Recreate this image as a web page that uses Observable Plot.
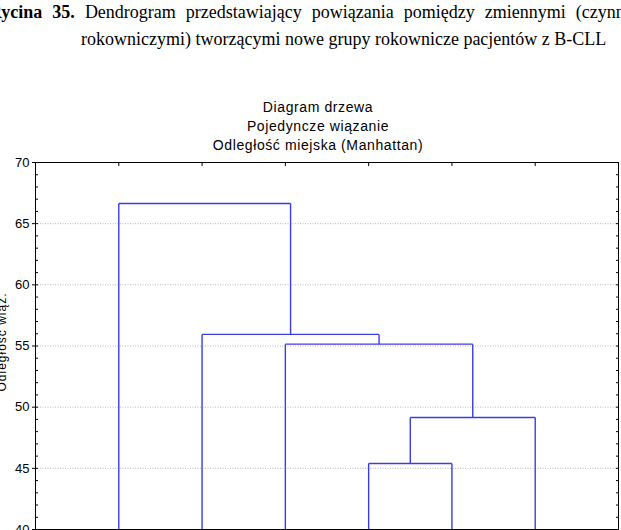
<!DOCTYPE html>
<html><head><meta charset="utf-8">
<script src="https://cdn.jsdelivr.net/npm/d3@7"></script>
<script src="https://cdn.jsdelivr.net/npm/@observablehq/plot@0.6"></script>
<style>
html,body{margin:0;padding:0;background:#fff;overflow:hidden}
#chart{position:relative;width:621px;height:530px;overflow:hidden}
</style></head><body>
<div id="chart"></div>
<script>
// ---- data ----
const captionLine1Bold = "Rycina 35.";
const captionLine1 = "Dendrogram przedstawiający powiązania pomiędzy zmiennymi (czynnikami";
const captionLine2 = "rokowniczymi) tworzącymi nowe grupy rokownicze pacjentów z B-CLL";
const titleLines = ["Diagram drzewa", "Pojedyncze wiązanie", "Odległość miejska (Manhattan)"];
const yAxisTitle = "Odległość wiąz.";
const leafPositions = [1, 2, 3, 4, 5, 6];        // leaf order on the x axis
const leafHeight = 0;                             // distance of a leaf to itself
// merges: node ids 0..5 are leaves, merge k creates node 6+k
const mergeLeft = [3, 6, 2, 1, 0];
const mergeRight = [4, 5, 7, 8, 9];
const mergeHeight = [45.4, 49.15, 55.15, 55.95, 66.65];
const yTicks = [40, 45, 50, 55, 60, 65, 70];
const yGrid = [45, 50, 55, 60, 65];
const yMinorTicks = d3.range(40, 71, 1);
const yDomain = [40, 70];

// ---- build segments from the tree ----
const pos = leafPositions.slice();
const hgt = leafPositions.map(() => leafHeight);
const segments = [];
mergeLeft.forEach((l, k) => {
  const r = mergeRight[k], id = leafPositions.length + k, h = mergeHeight[k];
  pos[id] = (pos[l] + pos[r]) / 2; hgt[id] = h;
  segments.push({x1: pos[l], y1: hgt[l], x2: pos[l], y2: h});
  segments.push({x1: pos[r], y1: hgt[r], x2: pos[r], y2: h});
  segments.push({x1: pos[l], y1: h, x2: pos[r], y2: h});
});

const blue = "#3c3ce6";
const plot = Plot.plot({
  width: 621, height: 530,
  marginTop: 162, marginBottom: 1, marginLeft: 35, marginRight: 3,
  style: {fontFamily: "'Liberation Sans', Arial, sans-serif", fontSize: "13px", background: "#fff"},
  x: {domain: [0, leafPositions.length + 1], axis: null},
  y: {domain: yDomain, axis: null, label: null},
  marks: [
    Plot.gridY(yGrid, {stroke: "#9a9a9a", strokeOpacity: 0.7, strokeDasharray: "1,1.5"}),
    Plot.link(segments, {x1: "x1", y1: "y1", x2: "x2", y2: "y2", stroke: blue, strokeWidth: 1.4, clip: true}),
    Plot.frame({stroke: "#000", strokeWidth: 1}),
    Plot.axisY(yTicks, {anchor: "left", tickSize: 3, tickPadding: 3, label: null, stroke: "#000"}),
    Plot.axisY(yMinorTicks, {anchor: "left", tickSize: 3, dx: 3, fill: "none", label: null, stroke: "#000"}),
    Plot.axisY(yMinorTicks, {anchor: "right", tickSize: 3, dx: -3, fill: "none", label: null, stroke: "#000"}),
    Plot.axisX(leafPositions, {anchor: "top", tickSize: 3, dy: 3, fill: "none", label: null, stroke: "#000"})
  ]
});
document.getElementById("chart").appendChild(plot);

const svg = d3.select(plot);
svg.selectAll("[aria-label='y-axis tick-label'] text").attr("letter-spacing", "1px").attr("font-size", "13px");

// caption (document text above the chart)
const cap = svg.append("g").attr("font-family", "'Liberation Serif', 'Times New Roman', serif").attr("font-size", 18)
  .attr("fill", "#000").attr("text-anchor", "start");
const t1 = cap.append("text").attr("x", -11).attr("y", 18).attr("word-spacing", "5.5px");
t1.append("tspan").attr("font-weight", "bold").text(captionLine1Bold);
t1.append("tspan").text(" " + captionLine1);
cap.append("text").attr("x", 81).attr("y", 45).text(captionLine2);

// chart titles
const tg = svg.append("g").attr("font-family", "'Liberation Sans', Arial, sans-serif").attr("font-size", 14)
  .attr("letter-spacing", "0.6px").attr("text-anchor", "middle").attr("fill", "#000");
const baselines = [111.7, 131, 150.3];
titleLines.forEach((s, i) => tg.append("text").attr("x", 318).attr("y", baselines[i]).text(s));

// y axis title (partly outside the picture, as in the reference)
svg.append("text").attr("transform", "translate(6,342) rotate(-90)").attr("text-anchor", "middle")
  .attr("font-family", "'Liberation Sans', Arial, sans-serif").attr("font-size", 12).attr("letter-spacing", "1px")
  .attr("fill", "#000").text(yAxisTitle);
</script>
</body></html>
